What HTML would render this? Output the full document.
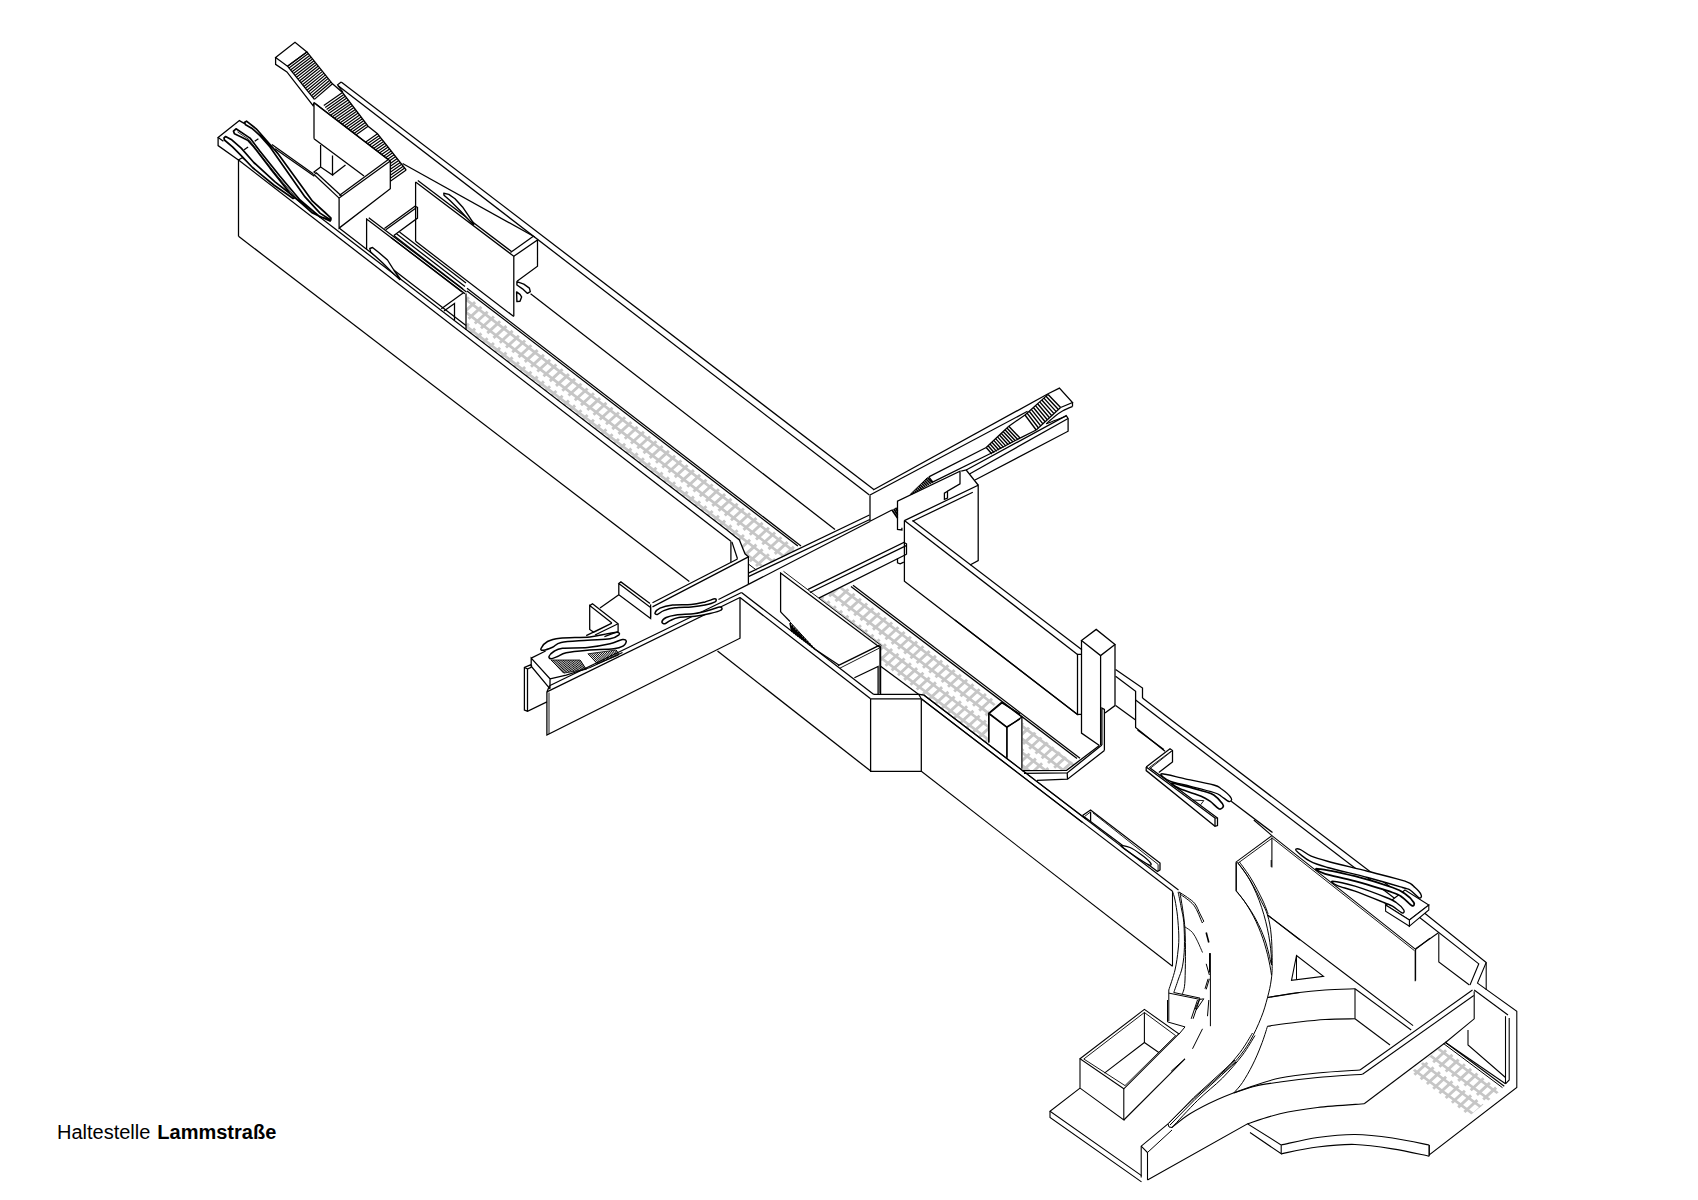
<!DOCTYPE html>
<html><head><meta charset="utf-8"><title>Haltestelle Lammstraße</title>
<style>
html,body{margin:0;padding:0;background:#fff;}
body{width:1698px;height:1200px;overflow:hidden;position:relative;font-family:"Liberation Sans",Arial,sans-serif;}
svg{position:absolute;left:0;top:0;}
.cap{position:absolute;left:57px;top:1120px;font-size:20px;line-height:24px;color:#000;white-space:nowrap;}
.cap b{font-weight:bold;margin-left:1.4px;}
</style></head><body>
<svg width="1698" height="1200" viewBox="0 0 1698 1200" stroke-linecap="butt" stroke-linejoin="miter">
<defs><clipPath id="t1"><polygon points="466.0,294.5 514.0,326.7 798.2,546.3 800.0,549.0 756.3,570.0 748.4,564.0 748.4,556.9 745.0,553.8 739.4,540.0 726.9,530.0 466.0,330.0"/></clipPath><clipPath id="t2"><polygon points="818.8,598.6 849.4,583.6 895.0,620.0 1000.0,700.0 988.8,710.5 987.5,743.1 923.8,695.0 918.8,694.4 880.6,666.3 880.6,646.9"/></clipPath><clipPath id="t3"><polygon points="1022.5,722.5 1075.0,764.5 1066.6,770.3 1022.5,770.5"/></clipPath><clipPath id="t4"><polygon points="1445.0,1043.5 1504.0,1088.0 1466.0,1118.5 1409.5,1073.5"/></clipPath></defs>

<g clip-path="url(#t1)"><path d="M460.0,294.9 L810.0,563.7 M460.0,307.7 L810.0,576.5 M460.0,321.4 L810.0,590.2 M460.0,334.2 L810.0,603.0" fill="none" stroke="#c6c6c6" stroke-width="2.70"/><path d="M462.6,292.5 L449.8,304.3 M468.9,297.3 L456.0,309.1 M475.1,302.1 L462.3,313.9 M481.4,306.9 L468.5,318.7 M487.6,311.7 L474.8,323.5 M493.9,316.5 L481.0,328.3 M500.1,321.3 L487.3,333.1 M506.4,326.1 L493.5,337.9 M512.6,330.9 L499.8,342.7 M518.9,335.7 L506.0,347.5 M525.1,340.5 L512.3,352.3 M531.4,345.3 L518.5,357.1 M537.6,350.1 L524.8,361.9 M543.9,354.9 L531.0,366.7 M550.1,359.7 L537.3,371.5 M556.4,364.5 L543.5,376.3 M562.6,369.3 L549.8,381.1 M568.9,374.1 L556.0,385.9 M575.1,378.9 L562.3,390.7 M581.4,383.7 L568.5,395.5 M587.6,388.5 L574.8,400.3 M593.9,393.3 L581.0,405.1 M600.1,398.1 L587.3,409.9 M606.4,402.9 L593.5,414.7 M612.6,407.7 L599.8,419.5 M618.9,412.5 L606.0,424.3 M625.1,417.3 L612.3,429.1 M631.4,422.1 L618.5,433.9 M637.6,426.9 L624.8,438.7 M643.9,431.7 L631.0,443.5 M650.1,436.5 L637.3,448.3 M656.4,441.3 L643.5,453.1 M662.6,446.1 L649.8,457.9 M668.9,450.9 L656.0,462.7 M675.1,455.7 L662.3,467.5 M681.4,460.5 L668.5,472.3 M687.6,465.3 L674.8,477.1 M693.9,470.1 L681.0,481.9 M700.1,474.9 L687.3,486.7 M706.4,479.7 L693.5,491.5 M712.6,484.5 L699.8,496.3 M718.9,489.3 L706.0,501.1 M725.1,494.1 L712.3,505.9 M731.4,498.9 L718.5,510.7 M737.6,503.7 L724.8,515.5 M743.9,508.5 L731.0,520.3 M750.1,513.3 L737.3,525.1 M756.4,518.1 L743.5,529.9 M762.6,522.9 L749.8,534.7 M768.9,527.7 L756.0,539.5 M775.1,532.5 L762.3,544.3 M781.4,537.3 L768.5,549.1 M787.6,542.1 L774.8,553.9 M793.9,546.9 L781.0,558.7 M800.1,551.7 L787.3,563.5 M806.4,556.5 L793.5,568.3 M462.6,319.0 L449.8,330.8 M468.9,323.8 L456.0,335.6 M475.1,328.6 L462.3,340.4 M481.4,333.4 L468.5,345.2 M487.6,338.2 L474.8,350.0 M493.9,343.0 L481.0,354.8 M500.1,347.8 L487.3,359.6 M506.4,352.6 L493.5,364.4 M512.6,357.4 L499.8,369.2 M518.9,362.2 L506.0,374.0 M525.1,367.0 L512.3,378.8 M531.4,371.8 L518.5,383.6 M537.6,376.6 L524.8,388.4 M543.9,381.4 L531.0,393.2 M550.1,386.2 L537.3,398.0 M556.4,391.0 L543.5,402.8 M562.6,395.8 L549.8,407.6 M568.9,400.6 L556.0,412.4 M575.1,405.4 L562.3,417.2 M581.4,410.2 L568.5,422.0 M587.6,415.0 L574.8,426.8 M593.9,419.8 L581.0,431.6 M600.1,424.6 L587.3,436.4 M606.4,429.4 L593.5,441.2 M612.6,434.2 L599.8,446.0 M618.9,439.0 L606.0,450.8 M625.1,443.8 L612.3,455.6 M631.4,448.6 L618.5,460.4 M637.6,453.4 L624.8,465.2 M643.9,458.2 L631.0,470.0 M650.1,463.0 L637.3,474.8 M656.4,467.8 L643.5,479.6 M662.6,472.6 L649.8,484.4 M668.9,477.4 L656.0,489.2 M675.1,482.2 L662.3,494.0 M681.4,487.0 L668.5,498.8 M687.6,491.8 L674.8,503.6 M693.9,496.6 L681.0,508.4 M700.1,501.4 L687.3,513.2 M706.4,506.2 L693.5,518.0 M712.6,511.0 L699.8,522.8 M718.9,515.8 L706.0,527.6 M725.1,520.6 L712.3,532.4 M731.4,525.4 L718.5,537.2 M737.6,530.2 L724.8,542.0 M743.9,535.0 L731.0,546.8 M750.1,539.8 L737.3,551.6 M756.4,544.6 L743.5,556.4 M762.6,549.4 L749.8,561.2 M768.9,554.2 L756.0,566.0 M775.1,559.0 L762.3,570.8 M781.4,563.8 L768.5,575.6 M787.6,568.6 L774.8,580.4 M793.9,573.4 L781.0,585.2 M800.1,578.2 L787.3,590.0 M806.4,583.0 L793.5,594.8" fill="none" stroke="#c6c6c6" stroke-width="2.90"/></g>
<g clip-path="url(#t2)"><path d="M800.0,556.8 L1090.0,777.7 M800.0,569.6 L1090.0,790.5 M800.0,583.3 L1090.0,804.2 M800.0,596.1 L1090.0,817.0" fill="none" stroke="#c6c6c6" stroke-width="2.70"/><path d="M804.6,555.8 L791.7,567.7 M810.9,560.6 L798.0,572.5 M817.1,565.4 L804.2,577.2 M823.4,570.1 L810.5,582.0 M829.6,574.9 L816.7,586.8 M835.9,579.7 L823.0,591.5 M842.1,584.4 L829.2,596.3 M848.4,589.2 L835.5,601.1 M854.6,593.9 L841.7,605.8 M860.9,598.7 L848.0,610.6 M867.1,603.5 L854.2,615.3 M873.4,608.2 L860.5,620.1 M879.6,613.0 L866.7,624.9 M885.9,617.8 L873.0,629.6 M892.1,622.5 L879.2,634.4 M898.4,627.3 L885.5,639.2 M904.6,632.0 L891.7,643.9 M910.9,636.8 L898.0,648.7 M917.1,641.6 L904.2,653.4 M923.4,646.3 L910.5,658.2 M929.6,651.1 L916.7,663.0 M935.9,655.9 L923.0,667.7 M942.1,660.6 L929.2,672.5 M948.4,665.4 L935.5,677.3 M954.6,670.1 L941.7,682.0 M960.9,674.9 L948.0,686.8 M967.1,679.7 L954.2,691.5 M973.4,684.4 L960.5,696.3 M979.6,689.2 L966.7,701.1 M985.9,694.0 L973.0,705.8 M992.1,698.7 L979.2,710.6 M998.4,703.5 L985.5,715.4 M1004.6,708.2 L991.7,720.1 M1010.9,713.0 L998.0,724.9 M1017.1,717.8 L1004.2,729.6 M1023.4,722.5 L1010.5,734.4 M1029.6,727.3 L1016.7,739.2 M1035.9,732.1 L1023.0,743.9 M1042.1,736.8 L1029.2,748.7 M1048.4,741.6 L1035.5,753.5 M1054.6,746.3 L1041.7,758.2 M1060.9,751.1 L1048.0,763.0 M1067.1,755.9 L1054.2,767.7 M1073.4,760.6 L1060.5,772.5 M1079.6,765.4 L1066.7,777.3 M1085.9,770.2 L1073.0,782.0 M1092.1,774.9 L1079.2,786.8 M804.6,582.3 L791.7,594.2 M810.9,587.1 L798.0,599.0 M817.1,591.9 L804.2,603.7 M823.4,596.6 L810.5,608.5 M829.6,601.4 L816.7,613.3 M835.9,606.2 L823.0,618.0 M842.1,610.9 L829.2,622.8 M848.4,615.7 L835.5,627.6 M854.6,620.4 L841.7,632.3 M860.9,625.2 L848.0,637.1 M867.1,630.0 L854.2,641.8 M873.4,634.7 L860.5,646.6 M879.6,639.5 L866.7,651.4 M885.9,644.3 L873.0,656.1 M892.1,649.0 L879.2,660.9 M898.4,653.8 L885.5,665.7 M904.6,658.5 L891.7,670.4 M910.9,663.3 L898.0,675.2 M917.1,668.1 L904.2,679.9 M923.4,672.8 L910.5,684.7 M929.6,677.6 L916.7,689.5 M935.9,682.4 L923.0,694.2 M942.1,687.1 L929.2,699.0 M948.4,691.9 L935.5,703.8 M954.6,696.6 L941.7,708.5 M960.9,701.4 L948.0,713.3 M967.1,706.2 L954.2,718.0 M973.4,710.9 L960.5,722.8 M979.6,715.7 L966.7,727.6 M985.9,720.5 L973.0,732.3 M992.1,725.2 L979.2,737.1 M998.4,730.0 L985.5,741.9 M1004.6,734.7 L991.7,746.6 M1010.9,739.5 L998.0,751.4 M1017.1,744.3 L1004.2,756.1 M1023.4,749.0 L1010.5,760.9 M1029.6,753.8 L1016.7,765.7 M1035.9,758.6 L1023.0,770.4 M1042.1,763.3 L1029.2,775.2 M1048.4,768.1 L1035.5,780.0 M1054.6,772.8 L1041.7,784.7 M1060.9,777.6 L1048.0,789.5 M1067.1,782.4 L1054.2,794.2 M1073.4,787.1 L1060.5,799.0 M1079.6,791.9 L1066.7,803.8 M1085.9,796.7 L1073.0,808.5 M1092.1,801.4 L1079.2,813.3" fill="none" stroke="#c6c6c6" stroke-width="2.90"/></g>
<g clip-path="url(#t3)"><path d="M1000.0,709.2 L1090.0,777.7 M1000.0,722.0 L1090.0,790.5 M1000.0,735.7 L1090.0,804.2 M1000.0,748.5 L1090.0,817.0" fill="none" stroke="#c6c6c6" stroke-width="2.70"/><path d="M1004.6,708.2 L991.7,720.1 M1010.9,713.0 L998.0,724.9 M1017.1,717.8 L1004.2,729.6 M1023.4,722.5 L1010.5,734.4 M1029.6,727.3 L1016.7,739.2 M1035.9,732.1 L1023.0,743.9 M1042.1,736.8 L1029.2,748.7 M1048.4,741.6 L1035.5,753.5 M1054.6,746.3 L1041.7,758.2 M1060.9,751.1 L1048.0,763.0 M1067.1,755.9 L1054.2,767.7 M1073.4,760.6 L1060.5,772.5 M1079.6,765.4 L1066.7,777.3 M1085.9,770.2 L1073.0,782.0 M1092.1,774.9 L1079.2,786.8 M1004.6,734.7 L991.7,746.6 M1010.9,739.5 L998.0,751.4 M1017.1,744.3 L1004.2,756.1 M1023.4,749.0 L1010.5,760.9 M1029.6,753.8 L1016.7,765.7 M1035.9,758.6 L1023.0,770.4 M1042.1,763.3 L1029.2,775.2 M1048.4,768.1 L1035.5,780.0 M1054.6,772.8 L1041.7,784.7 M1060.9,777.6 L1048.0,789.5 M1067.1,782.4 L1054.2,794.2 M1073.4,787.1 L1060.5,799.0 M1079.6,791.9 L1066.7,803.8 M1085.9,796.7 L1073.0,808.5 M1092.1,801.4 L1079.2,813.3" fill="none" stroke="#c6c6c6" stroke-width="2.90"/></g>
<g clip-path="url(#t4)"><path d="M1380.0,1005.2 L1520.0,1109.8 M1380.0,1018.0 L1520.0,1122.6 M1380.0,1031.7 L1520.0,1136.3 M1380.0,1044.5 L1520.0,1149.1" fill="none" stroke="#c6c6c6" stroke-width="2.70"/><path d="M1383.6,1003.6 L1370.7,1015.5 M1389.9,1008.2 L1376.9,1020.2 M1396.1,1012.9 L1383.2,1024.8 M1402.4,1017.6 L1389.4,1029.5 M1408.6,1022.2 L1395.7,1034.2 M1414.9,1026.9 L1401.9,1038.8 M1421.1,1031.6 L1408.2,1043.5 M1427.4,1036.2 L1414.4,1048.2 M1433.6,1040.9 L1420.7,1052.8 M1439.9,1045.6 L1426.9,1057.5 M1446.1,1050.2 L1433.2,1062.2 M1452.4,1054.9 L1439.4,1066.8 M1458.6,1059.6 L1445.7,1071.5 M1464.9,1064.2 L1451.9,1076.2 M1471.1,1068.9 L1458.2,1080.9 M1477.4,1073.6 L1464.4,1085.5 M1483.6,1078.3 L1470.7,1090.2 M1489.9,1082.9 L1476.9,1094.9 M1496.1,1087.6 L1483.2,1099.5 M1502.4,1092.3 L1489.4,1104.2 M1508.6,1096.9 L1495.7,1108.9 M1514.9,1101.6 L1501.9,1113.5 M1521.1,1106.3 L1508.2,1118.2 M1383.6,1030.1 L1370.7,1042.0 M1389.9,1034.7 L1376.9,1046.7 M1396.1,1039.4 L1383.2,1051.3 M1402.4,1044.1 L1389.4,1056.0 M1408.6,1048.7 L1395.7,1060.7 M1414.9,1053.4 L1401.9,1065.3 M1421.1,1058.1 L1408.2,1070.0 M1427.4,1062.7 L1414.4,1074.7 M1433.6,1067.4 L1420.7,1079.3 M1439.9,1072.1 L1426.9,1084.0 M1446.1,1076.7 L1433.2,1088.7 M1452.4,1081.4 L1439.4,1093.3 M1458.6,1086.1 L1445.7,1098.0 M1464.9,1090.7 L1451.9,1102.7 M1471.1,1095.4 L1458.2,1107.4 M1477.4,1100.1 L1464.4,1112.0 M1483.6,1104.8 L1470.7,1116.7 M1489.9,1109.4 L1476.9,1121.4 M1496.1,1114.1 L1483.2,1126.0 M1502.4,1118.8 L1489.4,1130.7 M1508.6,1123.4 L1495.7,1135.4 M1514.9,1128.1 L1501.9,1140.0 M1521.1,1132.8 L1508.2,1144.7" fill="none" stroke="#c6c6c6" stroke-width="2.90"/></g>
<polyline points="341.2,81.9 873.8,489.4" fill="none" stroke="#000" stroke-width="1.27"/>
<polyline points="338.5,86.0 869.4,495.0" fill="none" stroke="#000" stroke-width="1.27"/>
<polyline points="341.2,81.9 337.6,84.8 338.5,86.0" fill="none" stroke="#000" stroke-width="1.27"/>
<polyline points="238.5,160.0 730.9,541.3" fill="none" stroke="#000" stroke-width="1.27"/>
<polyline points="238.5,236.3 689.3,581.6" fill="none" stroke="#000" stroke-width="1.27"/>
<polyline points="238.5,160.0 238.5,236.3" fill="none" stroke="#000" stroke-width="1.27"/>
<polygon points="275.6,57.5 295.0,42.2 306.9,51.9 287.5,66.2" fill="none" stroke="#000" stroke-width="1.27"/>
<polyline points="275.6,57.5 275.6,64.4 286.9,71.9 313.1,105.6 314.1,102.8" fill="none" stroke="#000" stroke-width="1.27"/>
<polyline points="287.5,66.2 314.4,99.4" fill="none" stroke="#000" stroke-width="1.27"/>
<polyline points="306.9,51.9 332.5,83.8 342.5,92.5 368.1,126.2 377.5,133.8 406.2,170.0" fill="none" stroke="#000" stroke-width="1.27"/>
<polyline points="338.1,85.6 342.8,92.1" fill="none" stroke="#000" stroke-width="1.27"/>
<path d="M287.5,66.2 L306.9,51.9 M289.0,68.1 L308.3,53.6 M290.5,69.9 L309.7,55.4 M292.0,71.8 L311.1,57.2 M293.5,73.6 L312.6,59.0 M295.0,75.5 L314.0,60.7 M296.5,77.3 L315.4,62.5 M298.0,79.1 L316.8,64.3 M299.4,81.0 L318.3,66.0 M300.9,82.8 L319.7,67.8 M302.4,84.7 L321.1,69.6 M303.9,86.5 L322.5,71.4 M305.4,88.3 L324.0,73.1 M306.9,90.2 L325.4,74.9 M308.4,92.0 L326.8,76.7 M309.9,93.9 L328.2,78.4 M311.4,95.7 L329.7,80.2 M312.9,97.5 L331.1,82.0 M314.4,99.4 L332.5,83.8" fill="none" stroke="#000" stroke-width="1.20"/>
<path d="M323.8,105.6 L342.5,92.5 M325.2,107.5 L343.9,94.4 M326.6,109.4 L345.3,96.2 M328.0,111.2 L346.8,98.1 M329.4,113.1 L348.2,100.0 M330.9,115.0 L349.6,101.9 M332.3,116.8 L351.0,103.8 M334.3,118.3 L352.5,105.6 M336.3,119.8 L353.9,107.5 M338.2,121.3 L355.3,109.4 M340.2,122.8 L356.7,111.2 M342.1,124.3 L358.2,113.1 M344.1,125.9 L359.6,115.0 M346.0,127.4 L361.0,116.9 M348.0,128.9 L362.4,118.8 M350.0,130.4 L363.9,120.6 M351.9,131.9 L365.3,122.5 M353.9,133.4 L366.7,124.4 M355.8,134.9 L368.1,126.2" fill="none" stroke="#000" stroke-width="1.20"/>
<path d="M365.4,142.2 L377.5,133.8 M367.4,143.8 L379.0,135.7 M369.4,145.3 L380.5,137.6 M371.5,146.9 L382.0,139.5 M373.5,148.4 L383.6,141.4 M375.5,150.0 L385.1,143.3 M377.5,151.5 L386.6,145.2 M379.5,153.1 L388.1,147.1 M381.6,154.6 L389.6,149.0 M383.6,156.2 L391.1,150.9 M385.6,157.7 L392.6,152.8 M387.6,159.3 L394.1,154.7 M389.7,160.8 L395.7,156.6 M390.3,163.4 L397.2,158.6 M390.3,166.3 L398.7,160.5 M390.3,169.3 L400.2,162.4 M390.3,172.3 L401.7,164.3 M390.3,175.2 L403.2,166.2 M390.3,178.2 L404.7,168.1 M390.3,181.2 L406.2,170.0" fill="none" stroke="#000" stroke-width="1.2"/>
<polyline points="314.0,102.5 314.0,138.8" fill="none" stroke="#000" stroke-width="1.27"/>
<polyline points="314.0,102.5 390.3,161.0" fill="none" stroke="#000" stroke-width="1.27"/>
<polyline points="315.6,104.0 388.0,159.5" fill="none" stroke="#000" stroke-width="1.27"/>
<polyline points="314.0,138.8 364.0,176.0" fill="none" stroke="#000" stroke-width="1.27"/>
<polyline points="390.3,161.0 390.3,188.8 339.1,228.1 339.1,198.1 390.3,161.0" fill="none" stroke="#000" stroke-width="1.27"/>
<polyline points="388.0,159.8 339.3,195.6" fill="none" stroke="#000" stroke-width="1.27"/>
<polyline points="339.1,198.1 313.5,174.0" fill="none" stroke="#000" stroke-width="1.27"/>
<polyline points="341.5,196.0 316.0,172.5" fill="none" stroke="#000" stroke-width="1.27"/>
<polyline points="320.6,145.0 320.6,166.9 332.5,175.0 332.5,155.6" fill="none" stroke="#000" stroke-width="1.27"/>
<polyline points="332.5,175.0 345.5,165.0" fill="none" stroke="#000" stroke-width="1.27"/>
<polyline points="320.6,166.9 314.0,172.0 316.5,174.0" fill="none" stroke="#000" stroke-width="1.27"/>
<polyline points="223.4,141.2 218.1,137.5 239.4,120.6 244.1,123.4" fill="none" stroke="#000" stroke-width="1.27"/>
<polyline points="218.1,137.5 218.1,145.6 238.4,160.0 242.2,157.8" fill="none" stroke="#000" stroke-width="1.27"/>
<polyline points="244.1,149.7 248.1,146.9" fill="none" stroke="#000" stroke-width="1.27"/>
<polyline points="254.7,141.2 258.4,138.8" fill="none" stroke="#000" stroke-width="1.27"/>
<polyline points="242.2,157.4 726.9,530.0" fill="none" stroke="#000" stroke-width="1.27"/>
<path d="M224.0,137.8 L225.6,136.5 L231.2,139.4 L241.2,148.1 L253.8,162.5 L275.0,181.9 L295.0,197.5 L293.1,198.5 L273.8,185.0 L252.5,167.5 L241.2,155.6 L232.5,146.9 L224.4,140.0 Z" fill="#fff" stroke="#000" stroke-width="1.70" stroke-linejoin="round"/>
<polyline points="271.9,144.4 313.1,173.8" fill="none" stroke="#000" stroke-width="1.27"/>
<polyline points="275.0,148.8 314.4,176.2" fill="none" stroke="#000" stroke-width="1.27"/>
<path d="M244.4,122.5 L246.5,121.2 L256.2,128.8 L265.0,138.8 L277.5,153.1 L297.5,180.6 L312.5,201.2 L325.0,212.5 L331.0,218.1 L330.6,220.0 L320.0,213.1 L305.0,196.9 L287.5,171.9 L270.0,146.9 L260.0,135.6 L252.5,128.8 L245.6,124.8 Z" fill="#fff" stroke="#000" stroke-width="1.70" stroke-linejoin="round"/>
<path d="M233.5,131.2 L236.0,128.8 L250.0,138.1 L260.0,151.2 L280.0,176.2 L300.0,200.0 L320.0,216.9 L330.6,219.8 L330.0,221.0 L312.5,213.1 L290.0,193.1 L270.0,168.1 L253.8,146.9 L248.1,140.6 L241.2,136.9 L234.4,133.8 Z" fill="#fff" stroke="#000" stroke-width="1.70" stroke-linejoin="round"/>
<polyline points="237.5,131.9 248.8,139.4 258.8,152.5 277.5,176.2 297.5,199.4" fill="none" stroke="#000" stroke-width="0.80"/>
<polyline points="415.6,181.9 415.6,241.3" fill="none" stroke="#000" stroke-width="1.27"/>
<polyline points="415.6,181.9 513.8,256.3 513.8,316.3" fill="none" stroke="#000" stroke-width="1.27"/>
<polyline points="417.8,180.5 511.5,251.5" fill="none" stroke="#000" stroke-width="1.27"/>
<polyline points="402.6,163.5 534.8,237.0" fill="none" stroke="#000" stroke-width="1.27"/>
<polyline points="415.6,241.3 513.8,316.6" fill="none" stroke="#000" stroke-width="1.27"/>
<polyline points="513.8,256.3 537.5,240.0 537.5,266.3 517.0,281.3" fill="none" stroke="#000" stroke-width="1.27"/>
<polyline points="510.5,252.5 533.0,236.5" fill="none" stroke="#000" stroke-width="1.27"/>
<path d="M443.8,193.2 L448.8,194.4 L455.0,198.8 L462.5,206.9 L468.8,216.2 L474.0,224.0 L473.1,224.4 L460.0,210.6 L450.0,200.6 L444.0,195.2 Z" fill="#fff" stroke="#000" stroke-width="1.40" stroke-linejoin="round"/>
<polyline points="339.1,228.1 366.6,249.2 466.0,325.6" fill="none" stroke="#000" stroke-width="1.27"/>
<polyline points="366.6,249.2 366.6,219.0 465.0,293.8" fill="none" stroke="#000" stroke-width="1.27"/>
<polyline points="368.8,217.8 466.5,292.0" fill="none" stroke="#000" stroke-width="1.27"/>
<polyline points="466.0,293.5 466.0,330.0" fill="none" stroke="#000" stroke-width="1.27"/>
<path d="M369.8,248.5 L372.5,247.5 L378.8,252.5 L387.5,260.0 L393.8,270.0 L400.2,279.0 L399.8,279.4 L391.2,271.5 L382.5,262.8 L370.6,251.9 Z" fill="#fff" stroke="#000" stroke-width="1.40" stroke-linejoin="round"/>
<polyline points="441.3,308.8 463.8,292.5" fill="none" stroke="#000" stroke-width="1.27"/>
<polyline points="444.0,311.0 454.5,303.5 454.5,320.0" fill="none" stroke="#000" stroke-width="1.27"/>
<polyline points="384.4,228.5 415.0,206.3 417.5,207.5 417.5,218.1 393.8,235.6" fill="none" stroke="#000" stroke-width="1.27"/>
<polyline points="385.8,229.8 416.0,208.0" fill="none" stroke="#000" stroke-width="1.27"/>
<polyline points="393.8,235.6 463.0,289.0" fill="none" stroke="#000" stroke-width="1.27"/>
<polyline points="396.5,233.8 465.0,286.5" fill="none" stroke="#000" stroke-width="1.27"/>
<polyline points="399.5,232.0 466.0,283.0" fill="none" stroke="#000" stroke-width="1.27"/>
<polyline points="391.0,237.5 462.0,292.0" fill="none" stroke="#000" stroke-width="1.27"/>
<path d="M516.9,281.6 L523.8,284.1 L529.4,288.1 L530.3,291.6 L527.5,293.4 L522.5,288.8 L516.9,285.0 Z" fill="#fff" stroke="#000" stroke-width="1.40" stroke-linejoin="round"/>
<path d="M516.6,291.9 L520.0,294.4 L521.6,296.9 L520.0,301.2 L516.9,301.6 Z" fill="#fff" stroke="#000" stroke-width="1.40" stroke-linejoin="round"/>
<polyline points="530.6,293.8 835.0,529.4" fill="none" stroke="#000" stroke-width="1.27"/>
<polyline points="467.0,288.3 801.0,546.0" fill="none" stroke="#000" stroke-width="1.27"/>
<polyline points="467.0,290.9 797.8,546.1" fill="none" stroke="#000" stroke-width="1.27"/>
<polyline points="870.0,495.2 870.0,521.2" fill="none" stroke="#000" stroke-width="1.27"/>
<polyline points="873.1,490.0 1048.1,393.8" fill="none" stroke="#000" stroke-width="1.27"/>
<polyline points="870.0,495.0 1027.5,411.3" fill="none" stroke="#000" stroke-width="1.27"/>
<polyline points="870.0,521.2 891.9,510.0" fill="none" stroke="#000" stroke-width="1.27"/>
<polyline points="891.9,509.8 897.5,518.1" fill="none" stroke="#000" stroke-width="1.80"/>
<polyline points="893.8,508.8 897.5,514.8" fill="none" stroke="#000" stroke-width="1.80"/>
<polyline points="895.6,507.8 897.5,511.2" fill="none" stroke="#000" stroke-width="1.80"/>
<polyline points="808.1,589.4 903.8,542.5 906.5,543.8 906.5,554.4" fill="none" stroke="#000" stroke-width="1.27"/>
<polyline points="906.5,554.3 818.8,598.1" fill="none" stroke="#000" stroke-width="1.27"/>
<polyline points="810.0,592.5 906.2,545.6" fill="none" stroke="#000" stroke-width="1.27"/>
<polyline points="897.5,558.5 897.5,562.8 900.2,563.8 903.8,562.1" fill="none" stroke="#000" stroke-width="1.27"/>
<polyline points="901.9,527.8 901.9,530.0 897.5,529.4 897.5,501.2 960.0,471.2 960.0,483.8 947.5,491.2 947.5,498.1 944.4,499.4 944.4,493.1 947.5,491.2" fill="none" stroke="#000" stroke-width="1.27"/>
<path d="M911.5,493.2 L912.5,494.3 M912.9,491.8 L914.3,493.3 M914.4,490.4 L916.2,492.2 M915.8,488.9 L918.0,491.2 M917.3,487.5 L919.8,490.2 M918.7,486.1 L921.6,489.1 M920.2,484.7 L923.5,488.1 M921.6,483.3 L925.3,487.0 M923.1,481.9 L927.1,486.0 M924.5,480.4 L928.9,485.0 M926.0,479.0 L930.8,483.9 M927.4,477.6 L932.6,482.9" fill="none" stroke="#000" stroke-width="1.60"/>
<polyline points="909.9,494.7 927.4,477.6" fill="none" stroke="#000" stroke-width="1.00"/>
<polyline points="928.8,476.9 933.1,482.5" fill="none" stroke="#000" stroke-width="1.27"/>
<polyline points="546.9,691.9 740.0,597.5" fill="none" stroke="#000" stroke-width="1.27"/>
<polyline points="549.5,685.8 741.5,592.5" fill="none" stroke="#000" stroke-width="1.27"/>
<polyline points="546.9,691.9 546.9,735.0 740.0,638.2 740.0,597.5" fill="none" stroke="#000" stroke-width="1.27"/>
<polyline points="546.9,691.9 549.5,685.8" fill="none" stroke="#000" stroke-width="1.27"/>
<polyline points="549.0,692.5 549.0,734.0" fill="none" stroke="#000" stroke-width="0.90"/>
<polyline points="546.9,701.9 527.5,711.2 524.4,710.0 524.4,667.5 530.6,664.8 531.9,666.2" fill="none" stroke="#000" stroke-width="1.27"/>
<polyline points="527.5,711.2 527.5,669.0 524.4,667.5" fill="none" stroke="#000" stroke-width="1.27"/>
<polyline points="527.5,669.0 531.5,667.1" fill="none" stroke="#000" stroke-width="1.27"/>
<polyline points="550.0,688.8 550.0,678.8 531.2,658.1 531.2,666.2 550.0,688.8" fill="none" stroke="#000" stroke-width="1.27"/>
<polyline points="531.2,658.1 545.6,651.0" fill="none" stroke="#000" stroke-width="1.27"/>
<polyline points="550.0,678.8 566.2,675.2 590.0,667.5 622.5,652.5" fill="none" stroke="#000" stroke-width="1.27"/>
<path d="M551.2,660.0 L563.8,673.1 M552.9,660.0 L565.1,672.9 M554.6,660.0 L566.4,672.7 M556.3,660.0 L567.7,672.5 M558.0,660.0 L569.0,672.2 M559.7,660.0 L570.4,672.0 M561.4,660.0 L571.7,671.8 M563.1,660.0 L573.0,671.6 M564.8,660.0 L574.3,671.4 M566.5,660.0 L575.7,671.1 M568.2,660.0 L577.0,670.9 M569.9,660.0 L578.3,670.7 M571.5,660.0 L579.6,670.5 M573.2,660.0 L581.0,670.3 M574.9,660.0 L582.3,670.0 M576.6,660.0 L583.6,669.8 M578.3,660.0 L584.9,669.6 M580.0,660.0 L586.2,669.4" fill="none" stroke="#000" stroke-width="0.95"/>
<path d="M588.1,653.8 L597.5,663.8 M589.9,653.5 L598.8,663.2 M591.6,653.3 L600.2,662.7 M593.4,653.0 L601.5,662.1 M595.2,652.8 L602.8,661.6 M596.9,652.6 L604.1,661.0 M598.7,652.3 L605.5,660.5 M600.4,652.1 L606.8,659.9 M602.2,651.9 L608.1,659.4 M603.9,651.6 L609.5,658.8 M605.7,651.4 L610.8,658.3 M607.5,651.2 L612.1,657.7 M609.2,650.9 L613.4,657.2 M611.0,650.7 L614.8,656.6 M612.7,650.5 L616.1,656.1 M614.5,650.2 L617.4,655.5 M616.2,650.0 L618.8,655.0" fill="none" stroke="#000" stroke-width="0.95"/>
<polygon points="551.2,660.0 580.0,660.0 586.2,669.4 563.8,673.1" fill="none" stroke="#000" stroke-width="0.80"/>
<polygon points="588.1,653.8 616.2,650.0 618.8,655.0 597.5,663.8" fill="none" stroke="#000" stroke-width="0.80"/>
<path d="M541.0,648.5 C541.7,647.0 544.3,643.2 547.5,641.5 C550.7,639.8 552.9,639.0 560.0,638.2 C567.1,637.5 582.1,637.6 590.0,636.9 C597.9,636.1 603.0,634.5 607.5,633.8 C612.0,633.0 615.3,632.1 617.2,632.2 C619.2,632.4 620.2,633.7 619.0,634.8 C617.8,635.8 615.2,637.8 610.0,638.8 C604.8,639.7 595.6,639.6 587.5,640.2 C579.4,640.9 567.1,641.3 561.2,642.5 C555.4,643.7 555.5,646.0 552.5,647.2 C549.5,648.5 545.4,650.0 543.5,650.2 C541.6,650.5 540.3,650.0 541.0,648.5 Z" fill="#fff" stroke="#000" stroke-width="1.50"/>
<path d="M549.0,656.5 C549.4,655.3 551.5,652.9 553.8,651.5 C556.0,650.1 556.9,648.9 562.5,648.2 C568.1,647.6 579.6,648.2 587.5,647.5 C595.4,646.8 604.2,645.1 610.0,643.8 C615.8,642.4 619.8,639.9 622.5,639.5 C625.2,639.1 626.1,640.2 626.2,641.2 C626.4,642.3 625.2,644.8 623.1,646.0 C621.0,647.2 619.7,648.0 613.8,648.8 C607.8,649.5 595.4,649.6 587.5,650.2 C579.6,650.9 571.2,651.7 566.2,652.8 C561.2,653.8 560.0,655.5 557.5,656.5 C555.0,657.5 552.7,658.8 551.2,658.8 C549.8,658.8 548.6,657.7 549.0,656.5 Z" fill="#fff" stroke="#000" stroke-width="1.50"/>
<polyline points="618.8,583.4 618.8,594.7 650.6,618.4 650.6,607.5 618.8,583.4 620.9,581.9 650.0,603.4" fill="none" stroke="#000" stroke-width="1.27"/>
<polyline points="618.8,594.7 600.0,608.1" fill="none" stroke="#000" stroke-width="1.27"/>
<polyline points="611.9,623.1 589.7,605.6 589.7,629.4 593.8,632.2 611.9,623.1 586.2,635.6" fill="none" stroke="#000" stroke-width="1.27"/>
<polyline points="589.7,605.6 592.5,603.8 618.1,623.8 618.1,631.6 604.4,636.6" fill="none" stroke="#000" stroke-width="1.27"/>
<polyline points="618.1,623.8 595.0,635.0" fill="none" stroke="#000" stroke-width="1.27"/>
<path d="M655.0,612.8 C655.4,611.7 657.1,609.4 660.0,608.1 C662.9,606.8 667.3,605.6 672.5,605.0 C677.7,604.4 685.8,604.9 691.2,604.4 C696.7,603.9 701.0,602.8 705.0,601.9 C709.0,600.9 713.3,598.8 715.0,598.8 C716.7,598.8 716.7,600.8 715.0,601.9 C713.3,602.9 709.0,604.2 705.0,605.0 C701.0,605.8 696.2,606.4 691.2,606.9 C686.2,607.3 679.6,607.1 675.0,607.8 C670.4,608.4 666.7,609.5 663.8,610.6 C660.8,611.7 659.0,614.0 657.5,614.4 C656.0,614.7 654.6,613.8 655.0,612.8 Z" fill="#fff" stroke="#000" stroke-width="1.50"/>
<path d="M661.9,621.9 C662.1,620.8 663.9,618.6 666.2,617.5 C668.6,616.4 671.5,615.7 676.2,615.0 C681.0,614.3 689.4,614.3 695.0,613.5 C700.6,612.7 705.8,611.1 710.0,610.0 C714.2,608.9 718.1,606.9 720.0,606.9 C721.9,606.9 722.9,608.9 721.2,610.0 C719.6,611.1 714.4,612.5 710.0,613.5 C705.6,614.5 700.2,615.6 695.0,616.2 C689.8,616.9 682.9,616.8 678.8,617.5 C674.6,618.2 672.3,619.6 670.0,620.6 C667.7,621.7 666.4,623.5 665.0,623.8 C663.6,624.0 661.7,622.9 661.9,621.9 Z" fill="#fff" stroke="#000" stroke-width="1.50"/>
<polyline points="730.9,541.3 730.9,562.5" fill="none" stroke="#000" stroke-width="1.27"/>
<polyline points="726.9,530.0 739.4,540.0 745.0,553.8 748.4,556.9" fill="none" stroke="#000" stroke-width="1.27"/>
<polyline points="731.9,541.9 737.5,558.8" fill="none" stroke="#000" stroke-width="1.27"/>
<polyline points="652.5,606.9 748.4,556.9 748.4,584.4" fill="none" stroke="#000" stroke-width="1.27"/>
<polyline points="652.5,602.8 737.5,559.0" fill="none" stroke="#000" stroke-width="1.27"/>
<polyline points="650.6,604.4 650.6,617.5" fill="none" stroke="#000" stroke-width="1.27"/>
<polyline points="748.4,584.4 718.5,599.5" fill="none" stroke="#000" stroke-width="1.27"/>
<polyline points="748.4,573.1 869.4,515.0" fill="none" stroke="#000" stroke-width="1.27"/>
<polyline points="748.4,576.6 869.8,519.5" fill="none" stroke="#000" stroke-width="1.27"/>
<polyline points="748.4,584.4 870.0,521.5" fill="none" stroke="#000" stroke-width="1.27"/>
<polyline points="748.4,564.0 756.3,570.0" fill="none" stroke="#000" stroke-width="1.00"/>
<polyline points="740.0,597.5 870.6,698.8" fill="none" stroke="#000" stroke-width="1.27"/>
<polyline points="741.5,592.5 873.8,694.4" fill="none" stroke="#000" stroke-width="1.27"/>
<polyline points="717.5,651.0 871.0,771.3" fill="none" stroke="#000" stroke-width="1.27"/>
<polyline points="870.6,698.8 921.3,698.8 921.3,771.3 870.6,771.3 870.6,698.8" fill="none" stroke="#000" stroke-width="1.27"/>
<polyline points="873.8,694.4 918.8,694.4 921.3,698.8" fill="none" stroke="#000" stroke-width="1.27"/>
<polyline points="918.8,694.4 923.8,695.0" fill="none" stroke="#000" stroke-width="1.27"/>
<polyline points="921.3,698.8 1082.5,822.5" fill="none" stroke="#000" stroke-width="1.27"/>
<polyline points="923.8,695.0 1086.0,819.0" fill="none" stroke="#000" stroke-width="1.27"/>
<polyline points="780.6,611.9 780.6,573.1 880.0,647.5 880.0,693.5" fill="none" stroke="#000" stroke-width="1.27"/>
<polyline points="783.5,571.3 881.5,645.6" fill="none" stroke="#000" stroke-width="0.90"/>
<polyline points="780.6,611.9 790.0,621.5" fill="none" stroke="#000" stroke-width="1.27"/>
<polyline points="813.8,648.5 838.8,665.0" fill="none" stroke="#000" stroke-width="1.27"/>
<polyline points="838.1,665.6 878.8,645.6 880.6,646.9 880.6,694.0" fill="none" stroke="#000" stroke-width="1.27"/>
<polyline points="840.0,668.1 879.4,648.1" fill="none" stroke="#000" stroke-width="0.90"/>
<polyline points="854.4,677.8 878.1,666.5 878.1,694.0" fill="none" stroke="#000" stroke-width="1.27"/>
<polyline points="880.6,666.2 918.8,694.4" fill="none" stroke="#000" stroke-width="1.27"/>
<polyline points="988.8,742.5 988.8,713.1 1001.2,702.5 1020.0,714.0" fill="none" stroke="#000" stroke-width="1.27"/>
<polyline points="988.8,713.1 1006.9,726.9 1020.0,719.0" fill="none" stroke="#000" stroke-width="1.27"/>
<polyline points="1006.9,726.9 1006.9,757.5" fill="none" stroke="#000" stroke-width="1.27"/>
<path d="M790.0,623.0 L792.0,632.0 M792.2,625.2 L794.0,633.5 M794.3,627.5 L796.0,635.1 M796.5,629.7 L797.9,636.6 M798.7,631.9 L799.9,638.1 M800.8,634.1 L801.9,639.6 M803.0,636.4 L803.9,641.2 M805.1,638.6 L805.9,642.7 M807.3,640.8 L807.9,644.2 M809.5,643.0 L809.8,645.7 M811.6,645.3 L811.8,647.3 M813.8,647.5 L813.8,648.8" fill="none" stroke="#000" stroke-width="1.70"/>
<polyline points="790.0,622.0 813.8,648.0" fill="none" stroke="#000" stroke-width="1.00"/>
<polyline points="904.4,520.6 1077.5,654.4" fill="none" stroke="#000" stroke-width="1.27"/>
<polyline points="912.5,520.6 1081.9,649.8" fill="none" stroke="#000" stroke-width="1.27"/>
<polyline points="904.4,520.6 904.4,581.3 1077.5,714.4 1077.5,654.4 1081.5,654.4" fill="none" stroke="#000" stroke-width="1.27"/>
<polyline points="1077.5,714.4 1081.5,714.4" fill="none" stroke="#000" stroke-width="1.27"/>
<polyline points="904.4,520.6 978.2,485.2 978.2,560.6 970.0,565.0" fill="none" stroke="#000" stroke-width="1.27"/>
<polyline points="912.5,521.3 972.8,492.3" fill="none" stroke="#000" stroke-width="1.27"/>
<polygon points="1081.5,640.6 1096.2,629.4 1115.0,644.4 1100.6,655.6" fill="none" stroke="#000" stroke-width="1.27"/>
<polyline points="1081.5,640.6 1081.5,733.1 1099.4,745.6" fill="none" stroke="#000" stroke-width="1.27"/>
<polyline points="1100.6,655.6 1100.6,745.0" fill="none" stroke="#000" stroke-width="1.27"/>
<polyline points="1115.0,644.4 1115.0,705.6 1105.0,713.1" fill="none" stroke="#000" stroke-width="1.27"/>
<polyline points="1101.9,745.0 1101.9,708.1 1104.4,709.4 1104.4,750.6" fill="none" stroke="#000" stroke-width="1.27"/>
<polyline points="1099.4,745.6 1066.6,770.3 1021.9,770.6" fill="none" stroke="#000" stroke-width="1.27"/>
<polyline points="1101.9,745.0 1067.2,772.9 1024.0,773.4" fill="none" stroke="#000" stroke-width="1.27"/>
<polyline points="1104.4,750.6 1067.5,779.2 1037.0,780.3" fill="none" stroke="#000" stroke-width="1.27"/>
<polyline points="1067.2,772.9 1067.5,779.2" fill="none" stroke="#000" stroke-width="1.27"/>
<polyline points="1115.6,669.4 1142.5,688.1 1142.5,698.1" fill="none" stroke="#000" stroke-width="1.27"/>
<polyline points="1142.5,698.1 1427.0,915.0" fill="none" stroke="#000" stroke-width="1.27"/>
<polyline points="1115.6,676.2 1135.6,691.2 1135.6,727.5 1165.0,751.2" fill="none" stroke="#000" stroke-width="1.27"/>
<polyline points="1135.6,700.0 1421.3,918.8" fill="none" stroke="#000" stroke-width="1.27"/>
<polyline points="1115.6,705.6 1135.6,720.0" fill="none" stroke="#000" stroke-width="1.27"/>
<polygon points="988.8,713.8 1002.5,702.5 1021.9,716.9 1006.9,727.5" fill="none" stroke="#000" stroke-width="1.27"/>
<polyline points="988.8,713.8 988.8,742.5" fill="none" stroke="#000" stroke-width="1.27"/>
<polyline points="1006.9,727.5 1006.9,758.8" fill="none" stroke="#000" stroke-width="1.27"/>
<polyline points="1021.9,716.9 1021.9,768.8" fill="none" stroke="#000" stroke-width="1.27"/>
<polyline points="853.0,585.3 1080.0,758.3" fill="none" stroke="#000" stroke-width="1.27"/>
<polyline points="851.0,586.4 1077.0,758.6" fill="none" stroke="#000" stroke-width="1.27"/>
<polyline points="955.0,620.0 1077.5,714.4" fill="none" stroke="#000" stroke-width="1.27"/>
<polyline points="1146.2,766.9 1170.0,748.8 1172.5,750.6 1172.5,761.9 1158.8,772.5" fill="none" stroke="#000" stroke-width="1.27"/>
<polyline points="1149.4,767.5 1171.2,751.2" fill="none" stroke="#000" stroke-width="0.90"/>
<polyline points="1172.5,750.6 1150.6,768.1" fill="none" stroke="#000" stroke-width="0.90"/>
<polyline points="1146.2,766.9 1146.2,770.6 1215.0,826.2 1217.5,825.6 1217.5,818.1 1149.4,767.5" fill="none" stroke="#000" stroke-width="1.27"/>
<polyline points="1146.2,766.9 1215.0,818.1 1215.0,826.2" fill="none" stroke="#000" stroke-width="1.27"/>
<polyline points="1215.0,818.1 1217.5,818.1" fill="none" stroke="#000" stroke-width="0.90"/>
<path d="M1161.2,773.8 C1163.8,773.3 1176.2,776.9 1185.0,778.8 C1193.8,780.6 1207.7,783.3 1213.8,785.0 C1219.8,786.7 1218.3,786.6 1221.2,788.8 C1224.2,790.9 1230.0,796.0 1231.2,798.1 C1232.5,800.2 1230.7,801.8 1229.0,801.5 C1227.3,801.2 1223.8,797.8 1221.2,796.2 C1218.7,794.8 1219.8,794.4 1213.8,792.5 C1207.7,790.6 1192.3,786.9 1185.0,785.0 C1177.7,783.1 1174.0,783.1 1170.0,781.2 C1166.0,779.4 1158.8,774.2 1161.2,773.8 Z" fill="#fff" stroke="#000" stroke-width="1.30"/>
<path d="M1172.5,783.1 C1176.5,783.5 1196.9,789.3 1203.8,791.2 C1210.6,793.2 1210.6,792.9 1213.8,795.0 C1216.9,797.1 1221.0,801.7 1222.5,803.8 C1224.0,805.8 1223.4,806.7 1222.8,807.5 C1222.1,808.3 1220.9,809.8 1218.8,808.8 C1216.6,807.7 1212.9,803.3 1210.0,801.2 C1207.1,799.2 1206.2,798.3 1201.2,796.2 C1196.2,794.2 1184.8,790.9 1180.0,788.8 C1175.2,786.6 1168.5,782.7 1172.5,783.1 Z" fill="#fff" stroke="#000" stroke-width="1.60"/>
<polyline points="1192.5,800.0 1203.8,800.6 1200.6,804.8" fill="none" stroke="#000" stroke-width="0.90"/>
<polyline points="1137.5,730.0 1163.8,749.4" fill="none" stroke="#000" stroke-width="1.27"/>
<polyline points="1231.2,801.2 1272.5,832.5" fill="none" stroke="#000" stroke-width="1.27"/>
<polyline points="1082.5,815.6 1090.6,810.0 1160.0,863.1 1160.0,870.0 1157.5,871.5 1082.5,815.6" fill="none" stroke="#000" stroke-width="1.27"/>
<polyline points="1090.6,811.9 1090.6,821.9" fill="none" stroke="#000" stroke-width="1.27"/>
<polyline points="1092.8,812.8 1158.1,864.4 1158.1,871.0" fill="none" stroke="#000" stroke-width="0.90"/>
<polyline points="1085.0,816.2 1090.6,811.9" fill="none" stroke="#000" stroke-width="0.90"/>
<path d="M1121.2,846.2 C1120.4,844.8 1126.9,846.2 1130.0,847.5 C1133.1,848.8 1136.6,851.2 1140.0,853.8 C1143.4,856.2 1148.8,860.7 1150.2,862.5 C1151.8,864.3 1151.5,865.8 1149.0,864.8 C1146.5,863.7 1139.6,859.3 1135.0,856.2 C1130.4,853.2 1122.1,847.7 1121.2,846.2 Z" fill="#fff" stroke="#000" stroke-width="1.30"/>
<polyline points="1236.2,891.2 1236.2,861.9 1271.9,835.6 1415.6,949.4 1430.0,938.1" fill="none" stroke="#000" stroke-width="1.08"/>
<polyline points="1238.1,863.1 1272.2,838.1 1414.4,950.6" fill="none" stroke="#000" stroke-width="0.90"/>
<polyline points="1271.9,837.5 1271.9,867.5" fill="none" stroke="#000" stroke-width="1.08"/>
<polyline points="1415.2,950.0 1415.2,981.2" fill="none" stroke="#000" stroke-width="1.08"/>
<polyline points="1253.8,820.0 1271.9,835.6" fill="none" stroke="#000" stroke-width="1.08"/>
<polyline points="1267.5,915.0 1340.0,970.0 1413.1,1025.6" fill="none" stroke="#000" stroke-width="1.08"/>
<path d="M1237.5,862.5 C1262.0,890.0 1272.0,940.0 1271.5,965.0" fill="none" stroke="#000" stroke-width="1.00"/>
<path d="M1236.3,891.3 C1258.0,915.0 1268.0,950.0 1271.5,975.0" fill="none" stroke="#000" stroke-width="1.00"/>
<polygon points="1405.0,890.0 1428.8,905.0 1409.4,920.0 1385.6,905.0" fill="#fff" stroke="#000" stroke-width="1.08"/>
<polygon points="1428.8,905.0 1428.8,910.0 1409.4,926.2 1409.4,920.0" fill="#fff" stroke="#000" stroke-width="1.08"/>
<polygon points="1409.4,920.0 1409.4,926.2 1385.6,911.2 1385.6,905.0" fill="#fff" stroke="#000" stroke-width="1.08"/>
<path d="M1296.2,850.6 C1294.6,848.6 1297.5,848.4 1300.0,849.4 C1302.5,850.3 1306.7,854.3 1311.2,856.2 C1315.8,858.2 1318.1,858.8 1327.5,861.2 C1336.9,863.8 1354.6,867.9 1367.5,871.2 C1380.4,874.6 1397.1,878.5 1405.0,881.2 C1412.9,884.0 1412.3,885.2 1415.0,887.5 C1417.7,889.8 1420.6,893.3 1421.2,895.0 C1421.9,896.7 1420.9,898.6 1419.0,897.8 C1417.1,896.9 1412.8,891.7 1410.0,890.0 C1407.2,888.3 1409.6,889.6 1402.5,887.5 C1395.4,885.4 1380.0,880.8 1367.5,877.5 C1355.0,874.2 1337.1,870.2 1327.5,867.5 C1317.9,864.8 1315.2,864.1 1310.0,861.2 C1304.8,858.4 1297.9,852.6 1296.2,850.6 Z" fill="#fff" stroke="#000" stroke-width="1.40"/>
<path d="M1317.5,868.8 C1322.5,869.2 1342.5,873.1 1355.0,876.2 C1367.5,879.4 1384.2,884.6 1392.5,887.5 C1400.8,890.4 1401.5,891.2 1405.0,893.8 C1408.5,896.2 1412.6,900.5 1413.8,902.5 C1414.9,904.5 1413.8,906.5 1411.9,905.6 C1410.0,904.8 1405.7,899.7 1402.5,897.5 C1399.3,895.3 1400.4,895.2 1392.5,892.5 C1384.6,889.8 1366.2,884.4 1355.0,881.2 C1343.8,878.1 1331.2,875.8 1325.0,873.8 C1318.8,871.7 1312.5,868.3 1317.5,868.8 Z" fill="#fff" stroke="#000" stroke-width="1.80"/>
<path d="M1332.5,881.2 C1335.4,881.4 1346.0,883.5 1355.0,886.2 C1364.0,889.0 1379.4,894.8 1386.2,897.5 C1393.1,900.2 1393.3,900.4 1396.2,902.5 C1399.2,904.6 1402.8,908.3 1403.8,910.0 C1404.7,911.7 1403.8,913.4 1401.9,912.8 C1400.0,912.1 1395.5,908.0 1392.5,906.2 C1389.5,904.5 1390.0,905.0 1383.8,902.5 C1377.5,900.0 1362.7,894.1 1355.0,891.2 C1347.3,888.4 1341.2,887.3 1337.5,885.6 C1333.8,884.0 1329.6,881.1 1332.5,881.2 Z" fill="#fff" stroke="#000" stroke-width="1.40"/>
<polyline points="1426.9,915.0 1486.2,962.5 1477.5,983.1 1516.8,1011.2 1516.8,1087.5 1429.2,1155.0 1429.2,1145.0" fill="none" stroke="#000" stroke-width="1.08"/>
<polyline points="1421.2,918.8 1478.8,963.8 1470.0,985.0" fill="none" stroke="#000" stroke-width="1.08"/>
<polyline points="1486.2,962.5 1486.2,990.0" fill="none" stroke="#000" stroke-width="1.08"/>
<polyline points="1415.6,948.8 1438.8,932.5" fill="none" stroke="#000" stroke-width="1.08"/>
<polyline points="1415.6,948.8 1415.6,980.6" fill="none" stroke="#000" stroke-width="1.08"/>
<polyline points="1438.8,933.8 1438.8,961.9 1469.4,985.0" fill="none" stroke="#000" stroke-width="1.08"/>
<polyline points="921.3,698.8 1172.5,891.3" fill="none" stroke="#000" stroke-width="1.08"/>
<polyline points="923.8,695.0 1178.5,890.0" fill="none" stroke="#000" stroke-width="1.08"/>
<polyline points="921.3,771.3 1172.5,966.3" fill="none" stroke="#000" stroke-width="1.08"/>
<polyline points="1172.5,891.2 1172.5,966.2" fill="none" stroke="#000" stroke-width="1.08"/>
<path d="M1172.5,891.2 C1172.9,892.7 1174.2,895.8 1175.0,900.0 C1175.8,904.2 1176.9,910.4 1177.5,916.2 C1178.1,922.1 1178.6,929.4 1178.8,935.0 C1178.9,940.6 1178.8,944.2 1178.1,950.0 C1177.5,955.8 1176.6,963.3 1175.0,970.0 C1173.4,976.7 1169.8,986.7 1168.8,990.0 " fill="none" stroke="#000" stroke-width="1.00"/>
<path d="M1178.1,891.9 C1178.6,894.5 1180.3,902.4 1181.2,907.5 C1182.2,912.6 1183.2,915.8 1183.8,922.5 C1184.3,929.2 1184.6,940.2 1184.4,947.5 C1184.2,954.8 1183.5,960.8 1182.5,966.2 C1181.5,971.7 1179.6,975.6 1178.1,980.0 C1176.7,984.4 1174.5,990.4 1173.8,992.5 " fill="none" stroke="#000" stroke-width="1.00"/>
<path d="M1180.0,892.5 C1180.8,898.8 1184.2,915.4 1185.0,930.0 C1185.8,944.6 1185.4,969.4 1185.0,980.0 C1184.6,990.6 1182.9,991.5 1182.5,993.8 " fill="none" stroke="#000" stroke-width="1.00"/>
<path d="M1178.8,891.9 C1180.2,892.8 1184.8,895.5 1187.5,897.5 C1190.2,899.5 1192.9,901.0 1195.0,903.8 C1197.1,906.5 1198.5,910.8 1200.0,913.8 C1201.5,916.7 1203.1,920.0 1203.8,921.2 " fill="none" stroke="#000" stroke-width="1.00"/>
<path d="M1180.0,894.0 C1182.3,895.9 1190.0,900.5 1193.8,905.2 C1197.5,910.0 1200.8,919.8 1202.2,922.8 " fill="none" stroke="#000" stroke-width="1.00"/>
<polyline points="1203.8,921.2 1202.2,922.8" fill="none" stroke="#000" stroke-width="1.00"/>
<path d="M1185.0,926.9 C1186.2,927.8 1190.4,930.1 1192.5,932.5 C1194.6,934.9 1195.8,937.9 1197.5,941.2 C1199.2,944.6 1201.7,950.6 1202.5,952.5 " fill="none" stroke="#000" stroke-width="0.90"/>
<polyline points="1206.2,932.5 1208.8,942.5" fill="none" stroke="#000" stroke-width="1.60"/>
<polyline points="1210.4,953.1 1210.4,1026.2" fill="none" stroke="#000" stroke-width="1.00"/>
<polyline points="1209.5,953.1 1209.5,972.5" fill="none" stroke="#000" stroke-width="1.00"/>
<polyline points="1206.2,963.8 1209.4,975.0" fill="none" stroke="#000" stroke-width="1.00"/>
<polyline points="1208.1,978.8 1205.0,988.8" fill="none" stroke="#000" stroke-width="1.00"/>
<polyline points="1209.4,978.8 1206.2,989.4" fill="none" stroke="#000" stroke-width="1.00"/>
<polyline points="1168.8,990.0 1168.8,1021.2" fill="none" stroke="#000" stroke-width="1.00"/>
<polyline points="1168.8,993.1 1200.0,999.4 1203.8,998.8 1196.2,1010.0" fill="none" stroke="#000" stroke-width="1.00"/>
<polyline points="1173.8,992.5 1200.0,998.1 1195.0,1009.4" fill="none" stroke="#000" stroke-width="1.00"/>
<polyline points="1236.2,862.5 1236.2,890.6" fill="none" stroke="#000" stroke-width="1.08"/>
<path d="M1236.2,890.6 C1237.9,892.8 1242.9,898.9 1246.2,903.8 C1249.6,908.6 1253.1,914.0 1256.2,920.0 C1259.4,926.0 1262.5,932.7 1265.0,940.0 C1267.5,947.3 1270.2,959.8 1271.2,963.8 " fill="none" stroke="#000" stroke-width="1.00"/>
<path d="M1237.5,862.5 C1239.6,865.4 1246.0,873.5 1250.0,880.0 C1254.0,886.5 1258.3,895.4 1261.2,901.2 C1264.2,907.1 1265.8,909.4 1267.5,915.0 C1269.2,920.6 1270.5,926.9 1271.2,935.0 C1272.0,943.1 1272.2,956.2 1272.2,963.8 C1272.2,971.2 1272.0,974.4 1271.2,980.0 C1270.5,985.6 1269.2,991.2 1267.5,997.5 C1265.8,1003.8 1264.2,1010.2 1261.2,1017.5 C1258.3,1024.8 1254.0,1034.4 1250.0,1041.2 C1246.0,1048.1 1242.1,1053.3 1237.5,1058.8 C1232.9,1064.2 1225.0,1071.2 1222.5,1073.8 " fill="none" stroke="#000" stroke-width="1.00"/>
<path d="M1239.4,861.9 C1241.4,864.7 1247.4,872.4 1251.2,878.8 C1255.1,885.1 1259.7,894.2 1262.5,900.0 C1265.3,905.8 1267.2,911.5 1268.1,913.8 " fill="none" stroke="#000" stroke-width="1.00"/>
<polyline points="1267.5,915.0 1300.0,940.0" fill="none" stroke="#000" stroke-width="1.08"/>
<polyline points="1267.5,997.5 1300.0,992.5" fill="none" stroke="#000" stroke-width="1.08"/>
<polygon points="1296.5,955.5 1291.5,980.3 1323.5,976.3" fill="none" stroke="#000" stroke-width="1.10"/>
<polyline points="1296.5,955.5 1296.5,979.5" fill="none" stroke="#000" stroke-width="1.00"/>
<polyline points="1271.2,860.0 1271.2,866.9" fill="none" stroke="#000" stroke-width="1.00"/>
<polygon points="1080.0,1058.8 1144.4,1009.4 1178.8,1033.8 1123.8,1088.8" fill="none" stroke="#000" stroke-width="1.08"/>
<polygon points="1083.8,1059.0 1144.4,1012.5 1175.6,1035.6 1125.0,1085.6" fill="none" stroke="#000" stroke-width="0.90"/>
<polyline points="1144.4,1012.5 1144.4,1042.5" fill="none" stroke="#000" stroke-width="1.08"/>
<polyline points="1104.4,1073.1 1144.4,1042.5 1158.8,1052.5" fill="none" stroke="#000" stroke-width="1.08"/>
<polyline points="1080.0,1058.8 1080.0,1088.1 1123.8,1120.0 1123.8,1088.8" fill="none" stroke="#000" stroke-width="1.08"/>
<polyline points="1123.8,1120.0 1185.0,1058.8" fill="none" stroke="#000" stroke-width="1.08"/>
<polyline points="1080.0,1088.1 1050.0,1111.2 1141.5,1175.6" fill="none" stroke="#000" stroke-width="1.08"/>
<polyline points="1050.0,1111.2 1050.0,1117.5 1141.5,1181.9" fill="none" stroke="#000" stroke-width="1.08"/>
<polyline points="1167.5,1000.0 1167.5,1021.9 1185.0,1026.9 1178.8,1034.4" fill="none" stroke="#000" stroke-width="1.00"/>
<polyline points="1197.5,1000.0 1191.2,1018.8" fill="none" stroke="#000" stroke-width="1.00"/>
<polyline points="1199.4,1000.0 1193.1,1018.8" fill="none" stroke="#000" stroke-width="1.00"/>
<polyline points="1208.8,1000.0 1207.5,1016.2" fill="none" stroke="#000" stroke-width="1.00"/>
<polyline points="1202.5,1028.8 1192.5,1048.8" fill="none" stroke="#000" stroke-width="1.00"/>
<polyline points="1185.0,1058.8 1171.2,1071.2" fill="none" stroke="#000" stroke-width="1.00"/>
<polyline points="1168.8,1123.1 1193.8,1097.5 1235.0,1060.0" fill="none" stroke="#000" stroke-width="1.00"/>
<polyline points="1170.0,1125.0 1195.0,1099.4 1236.2,1061.9" fill="none" stroke="#000" stroke-width="1.00"/>
<path d="M1267.5,997.5 C1272.1,996.8 1285.4,994.2 1295.0,993.0 C1304.6,991.8 1315.0,990.7 1325.0,990.0 C1335.0,989.3 1350.0,989.0 1355.0,988.8 " fill="none" stroke="#000" stroke-width="1.10"/>
<polyline points="1355.0,988.8 1355.0,1018.8" fill="none" stroke="#000" stroke-width="1.08"/>
<polyline points="1355.0,988.8 1411.2,1030.0" fill="none" stroke="#000" stroke-width="1.08"/>
<path d="M1267.5,1026.2 C1272.1,1025.6 1285.4,1023.6 1295.0,1022.5 C1304.6,1021.4 1315.0,1020.1 1325.0,1019.5 C1335.0,1018.9 1350.0,1018.9 1355.0,1018.8 " fill="none" stroke="#000" stroke-width="1.10"/>
<polyline points="1355.0,1018.8 1390.0,1045.0" fill="none" stroke="#000" stroke-width="1.08"/>
<path d="M1267.5,1026.2 C1266.5,1029.4 1263.8,1038.5 1261.2,1045.0 C1258.8,1051.5 1255.6,1058.8 1252.5,1065.0 C1249.4,1071.2 1245.6,1077.8 1242.5,1082.5 C1239.4,1087.2 1235.2,1091.2 1233.8,1093.0 " fill="none" stroke="#000" stroke-width="1.00"/>
<path d="M1252.5,1033.0 C1250.4,1036.2 1245.4,1045.5 1240.0,1052.5 C1234.6,1059.5 1227.5,1067.5 1220.0,1075.0 C1212.5,1082.5 1203.7,1089.4 1195.0,1097.5 C1186.3,1105.6 1172.5,1119.4 1168.0,1123.8 " fill="none" stroke="#000" stroke-width="1.00"/>
<path d="M1255.0,1035.5 C1252.9,1038.8 1247.9,1047.9 1242.5,1055.0 C1237.1,1062.1 1230.0,1070.4 1222.5,1078.0 C1215.0,1085.6 1205.9,1092.2 1197.5,1100.5 C1189.1,1108.8 1176.2,1123.0 1172.0,1127.5 " fill="none" stroke="#000" stroke-width="1.00"/>
<polyline points="1168.0,1123.8 1169.0,1127.0 1172.0,1127.5" fill="none" stroke="#000" stroke-width="1.00"/>
<path d="M1172.0,1127.5 C1175.0,1125.2 1182.4,1118.4 1190.0,1113.8 C1197.6,1109.1 1207.5,1104.0 1217.5,1099.5 C1227.5,1095.0 1239.6,1090.6 1250.0,1087.0 C1260.4,1083.4 1268.8,1080.3 1280.0,1078.0 C1291.2,1075.7 1304.2,1074.3 1317.5,1073.0 C1330.8,1071.7 1352.9,1070.5 1360.0,1070.0 " fill="none" stroke="#000" stroke-width="1.10"/>
<polyline points="1360.0,1070.0 1472.5,990.0" fill="none" stroke="#000" stroke-width="1.08"/>
<path d="M1233.8,1093.0 C1237.3,1091.9 1247.3,1088.1 1255.0,1086.2 C1262.7,1084.4 1269.6,1083.5 1280.0,1082.0 C1290.4,1080.5 1303.8,1078.8 1317.5,1077.5 C1331.2,1076.2 1355.0,1074.8 1362.5,1074.2 " fill="none" stroke="#000" stroke-width="1.10"/>
<polyline points="1362.5,1074.2 1473.8,995.5" fill="none" stroke="#000" stroke-width="1.08"/>
<path d="M1247.5,1123.8 C1252.9,1122.1 1268.3,1116.5 1280.0,1113.8 C1291.7,1111.0 1303.5,1109.2 1317.5,1107.5 C1331.5,1105.8 1356.5,1104.4 1364.2,1103.8 " fill="none" stroke="#000" stroke-width="1.10"/>
<polyline points="1364.2,1103.8 1445.5,1042.5" fill="none" stroke="#000" stroke-width="1.08"/>
<polyline points="1141.2,1177.5 1141.2,1146.2 1168.0,1123.8" fill="none" stroke="#000" stroke-width="1.08"/>
<polyline points="1141.2,1146.2 1147.5,1152.5 1147.5,1180.0" fill="none" stroke="#000" stroke-width="1.08"/>
<polyline points="1147.5,1152.5 1172.0,1130.0" fill="none" stroke="#000" stroke-width="1.00"/>
<polyline points="1147.5,1180.0 1247.5,1123.8 1281.2,1145.0 1281.2,1153.8 1250.0,1132.5" fill="none" stroke="#000" stroke-width="1.08"/>
<path d="M1281.2,1145.0 C1287.3,1143.8 1305.2,1139.2 1317.5,1137.5 C1329.8,1135.8 1342.5,1134.4 1355.0,1134.5 C1367.5,1134.6 1380.1,1136.2 1392.5,1138.0 C1404.9,1139.8 1423.1,1143.8 1429.2,1145.0 " fill="none" stroke="#000" stroke-width="1.20"/>
<path d="M1281.2,1153.8 C1287.3,1152.6 1305.2,1148.5 1317.5,1147.0 C1329.8,1145.5 1342.5,1144.2 1355.0,1144.5 C1367.5,1144.8 1380.1,1146.8 1392.5,1148.8 C1404.9,1150.7 1423.1,1155.0 1429.2,1156.2 " fill="none" stroke="#000" stroke-width="1.20"/>
<polyline points="1429.2,1145.0 1429.2,1156.2" fill="none" stroke="#000" stroke-width="1.08"/>
<polyline points="1474.2,991.2 1474.2,1018.8 1445.5,1042.5" fill="none" stroke="#000" stroke-width="1.08"/>
<polyline points="1468.0,1030.0 1468.0,1045.0 1505.5,1077.5" fill="none" stroke="#000" stroke-width="1.08"/>
<polyline points="1505.5,1016.2 1505.5,1083.8" fill="none" stroke="#000" stroke-width="1.08"/>
<polyline points="1509.2,1018.0 1509.2,1080.0 1505.5,1083.8" fill="none" stroke="#000" stroke-width="1.08"/>
<polyline points="1474.2,990.0 1508.0,1015.0" fill="none" stroke="#000" stroke-width="1.08"/>
<polyline points="1445.5,1042.5 1505.5,1083.8" fill="none" stroke="#000" stroke-width="1.08"/>
<polyline points="1445.0,1042.0 1504.3,1086.3" fill="none" stroke="#000" stroke-width="1.08"/>
<polyline points="1443.5,1043.5 1502.5,1087.7" fill="none" stroke="#000" stroke-width="1.00"/>
<polyline points="1048.1,393.8 1059.4,388.1 1072.5,402.5 1060.6,407.5" fill="none" stroke="#000" stroke-width="1.27"/>
<polyline points="1072.5,402.5 1072.5,406.5" fill="none" stroke="#000" stroke-width="1.27"/>
<path d="M1072.5,406.5 C1070.8,407.2 1065.4,409.4 1062.5,411.0 C1059.6,412.6 1057.7,414.1 1055.0,416.2 C1052.3,418.4 1047.7,422.5 1046.2,423.8 " fill="none" stroke="#000" stroke-width="1.20"/>
<path d="M1046.2,423.8 C1047.9,423.1 1052.9,421.3 1056.2,420.0 C1059.6,418.7 1064.6,416.7 1066.2,416.0 " fill="none" stroke="#000" stroke-width="1.10"/>
<path d="M1025.0,415.0 L1036.2,430.0 M1027.1,413.1 L1038.5,428.0 M1029.2,411.2 L1040.7,425.9 M1031.3,409.4 L1042.9,423.9 M1033.4,407.5 L1045.1,421.8 M1035.5,405.6 L1047.3,419.8 M1037.6,403.8 L1049.5,417.7 M1039.7,401.9 L1051.8,415.7 M1041.8,400.0 L1054.0,413.6 M1043.9,398.1 L1056.2,411.6 M1046.0,396.2 L1058.4,409.5 M1048.1,394.4 L1060.6,407.5" fill="none" stroke="#000" stroke-width="1.40"/>
<polyline points="1025.0,415.0 1048.1,394.4" fill="none" stroke="#000" stroke-width="1.27"/>
<polyline points="1036.2,430.0 1060.6,407.5" fill="none" stroke="#000" stroke-width="1.27"/>
<polyline points="1008.8,426.2 1025.0,415.0" fill="none" stroke="#000" stroke-width="1.27"/>
<polyline points="1020.0,438.1 1036.2,430.0" fill="none" stroke="#000" stroke-width="1.27"/>
<path d="M986.2,447.5 L991.9,454.0 M988.1,445.7 L994.2,452.7 M990.0,444.0 L996.6,451.4 M991.9,442.2 L998.9,450.0 M993.8,440.4 L1001.2,448.7 M995.6,438.6 L1003.6,447.4 M997.5,436.9 L1005.9,446.1 M999.4,435.1 L1008.3,444.7 M1001.2,433.3 L1010.6,443.4 M1003.1,431.6 L1013.0,442.1 M1005.0,429.8 L1015.3,440.8 M1006.9,428.0 L1017.7,439.4 M1008.8,426.2 L1020.0,438.1" fill="none" stroke="#000" stroke-width="1.40"/>
<polyline points="986.2,447.5 1008.8,426.2" fill="none" stroke="#000" stroke-width="1.27"/>
<polyline points="990.0,453.8 1020.0,438.1" fill="none" stroke="#000" stroke-width="1.27"/>
<polyline points="928.8,476.9 986.2,447.5" fill="none" stroke="#000" stroke-width="1.27"/>
<polyline points="933.1,481.9 990.0,453.8" fill="none" stroke="#000" stroke-width="1.27"/>
<polyline points="966.2,470.0 1066.2,415.6 1068.1,418.5 1068.1,431.2 975.0,480.0" fill="none" stroke="#000" stroke-width="1.27"/>
<polyline points="969.5,474.0 1068.1,418.5" fill="none" stroke="#000" stroke-width="1.27"/>
<polyline points="961.2,471.2 966.2,470.0 978.1,485.0" fill="none" stroke="#000" stroke-width="1.27"/>

</svg>
<div class="cap">Haltestelle <b>Lammstraße</b></div>
</body></html>
